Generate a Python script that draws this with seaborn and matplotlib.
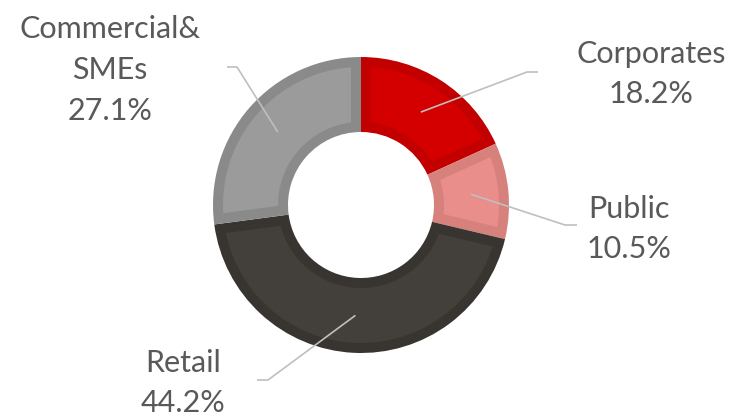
import numpy as np
import matplotlib
matplotlib.use("Agg")
import matplotlib.pyplot as plt
from matplotlib.patches import Polygon
import seaborn as sns

# Portfolio split by segment (share of total, %)
segments = ["Corporates", "Public", "Retail", "Commercial&\nSMEs"]
shares = [18.2, 10.5, 44.2, 27.1]
fill_colors = ["#D40000", "#E98E8A", "#433F3A", "#9B9B9B"]
edge_colors = ["#C20000", "#D7817D", "#383430", "#8A8A8A"]

sns.set_theme(style="white")
plt.rcParams["font.family"] = ["Lato", "DejaVu Sans"]

W, H = 733, 416
fig = plt.figure(figsize=(W / 100, H / 100), dpi=100)
ax = fig.add_axes([0, 0, 1, 1])

cx, cy = 361, H - 205
r_out, r_in = 148, 73
band = 10  # width of the darker border band inside each segment

# full segments in the darker border colour
wedges, _ = ax.pie(
    shares,
    colors=edge_colors,
    startangle=90,
    counterclock=False,
    radius=r_out,
    center=(cx, cy),
    wedgeprops=dict(width=r_out - r_in, linewidth=0),
)

# lighter inset for each segment, offset by a constant band width
for w, fc in zip(wedges, fill_colors):
    t1, t2 = np.deg2rad(w.theta1), np.deg2rad(w.theta2)
    ro, ri = r_out - band, r_in + band
    do, di = np.arcsin(band / ro), np.arcsin(band / ri)
    a_out = np.linspace(t1 + do, t2 - do, 80)
    a_in = np.linspace(t2 - di, t1 + di, 80)
    xs = np.concatenate([cx + ro * np.cos(a_out), cx + ri * np.cos(a_in)])
    ys = np.concatenate([cy + ro * np.sin(a_out), cy + ri * np.sin(a_in)])
    ax.add_patch(Polygon(np.column_stack([xs, ys]), closed=True,
                         facecolor=fc, edgecolor="none", zorder=3))

ax.set_xlim(0, W)
ax.set_ylim(0, H)
ax.set_aspect("equal")
ax.axis("off")

# leader lines: elbow point and end of the horizontal tick, text anchors
elbows = [(527, 72), (565, 225), (268, 380), (237, 67)]
ends = [(538, 72), (577, 225), (257, 380), (227, 67)]
label_pos = [(651, 74), (629, 229), (183, 383), (110, 70)]

r_mid = (r_out + r_in) / 2
cum = np.cumsum([0] + shares[:-1])
for i, (seg, val) in enumerate(zip(segments, shares)):
    ang = np.deg2rad(90 - (cum[i] + val / 2) * 3.6)
    sx, sy = cx + r_mid * np.cos(ang), cy + r_mid * np.sin(ang)
    ex, ey = elbows[i]
    tx, ty = ends[i]
    ax.plot([sx, ex, tx], [sy, H - ey, H - ty], color="#BFBFBF", lw=1.2,
            solid_capstyle="butt", zorder=5)
    lx, ly = label_pos[i]
    ax.text(lx, H - ly, f"{seg}\n{val:.1f}%", ha="center", va="center",
            fontsize=22, color="#595959", linespacing=1.55)

fig.savefig("out.png", dpi=100)
